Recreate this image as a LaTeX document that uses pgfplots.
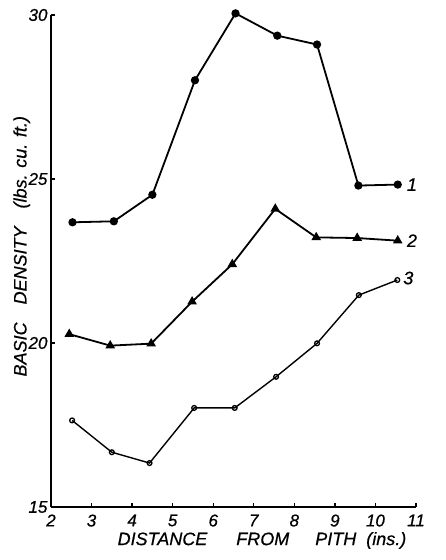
\documentclass[border=0pt]{standalone}
\usepackage{fontspec}
\setmainfont{Liberation Sans}
\newfontfamily\lab[FakeBold=0.6]{Liberation Sans}
\usepackage{pgfplots}
\pgfplotsset{compat=1.18}
\begin{document}
\begin{tikzpicture}[x=1pt,y=1pt]
\begin{axis}[
 at={(0,0)}, anchor=south west,
 scale only axis, width=365pt, height=492pt,
 xmin=2, xmax=11, ymin=15, ymax=30,
 axis lines*=left, axis line style={line width=1.8pt},
 xtick={2,3,4,5,6,7,8,9,10,11}, ytick={15,20,25,30},
 xticklabels={2,3,4,5,6,7,8,9,10,11},
 yticklabels={15,20,25,30},
 tick align=inside, major tick length=4pt, tick style={line width=1.3pt, black},
 tick label style={font=\fontsize{17}{17}\selectfont\lab\itshape},
 xticklabel style={yshift=-4pt},
 label style={font=\fontsize{18}{18}\selectfont\lab\itshape},
 xlabel={DISTANCE\hspace{29pt}FROM\hspace{26pt}PITH\hspace{10pt}(ins.)},
 ylabel={BASIC\quad DENSITY\quad (lbs. cu. ft.)},
 xlabel style={at={(axis description cs:0.578,-0.068)}, anchor=center},
 ylabel style={at={(axis description cs:-0.080,0.53)}, anchor=center},
 clip=false,
]
\addplot[black, line width=1.8pt, mark=*, mark size=3.2pt] coordinates {
 (2.53,23.68) (3.55,23.71) (4.5,24.52) (5.55,28.01) (6.55,30.05)
 (7.58,29.37) (8.56,29.10) (9.58,24.80) (10.55,24.83)
} node[right=5pt, pos=1, font=\fontsize{18}{18}\selectfont\lab\itshape]{1};
\addplot[black, line width=1.8pt, mark=triangle*, mark size=3.8pt] coordinates {
 (2.45,20.27) (3.46,19.92) (4.47,19.98) (5.48,21.26) (6.47,22.40)
 (7.53,24.09) (8.54,23.22) (9.55,23.20) (10.55,23.12)
} node[right=5pt, pos=1, font=\fontsize{18}{18}\selectfont\lab\itshape]{2};
\addplot[black, line width=1.4pt, mark=o, mark size=2.4pt, mark options={fill=white, line width=1.3pt}] coordinates {
 (2.52,17.64) (3.50,16.67) (4.43,16.34) (5.53,18.02) (6.53,18.02)
 (7.55,18.97) (8.56,19.99) (9.59,21.46) (10.54,21.92)
} node[right=2pt, pos=1, yshift=2pt, font=\fontsize{18}{18}\selectfont\lab\itshape]{3};
\end{axis}
\pgfresetboundingbox
\path[use as bounding box] (-51,-53) rectangle (394,507);
\end{tikzpicture}
\end{document}
